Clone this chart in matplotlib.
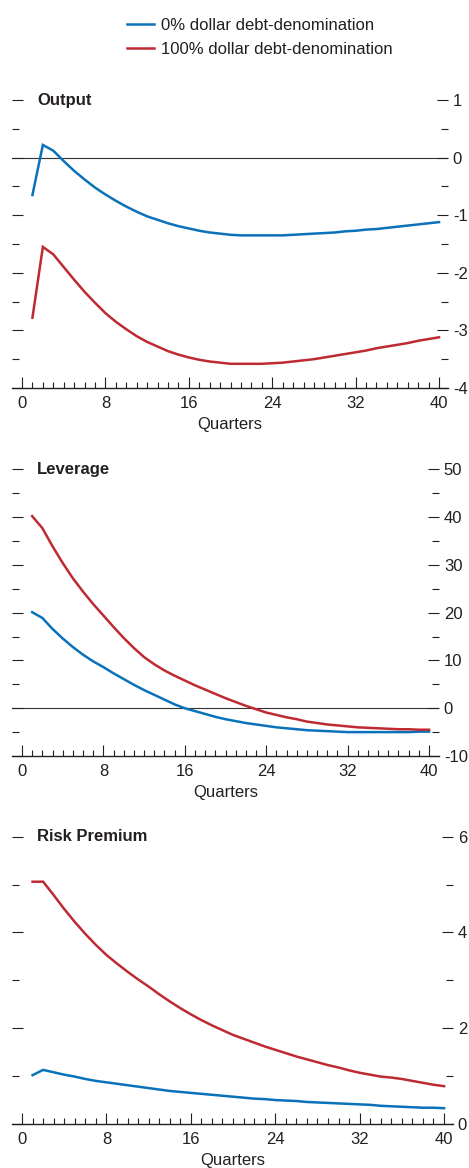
"""
Impulse responses: output, leverage and risk premium under dollar debt shares.
"""

import matplotlib

matplotlib.use("Agg")
import matplotlib.pyplot as plt
from matplotlib import font_manager
from matplotlib.ticker import MultipleLocator

# a condensed face if one is installed, else plain Liberation Sans a bit smaller
installed = {f.name for f in font_manager.fontManager.ttflist}
if "Liberation Sans Narrow" in installed:
    FAMILY, FS = ["Liberation Sans Narrow", "DejaVu Sans"], 13
else:
    FAMILY, FS = ["Liberation Sans", "DejaVu Sans"], 12

plt.rcParams["font.family"] = FAMILY
plt.rcParams["axes.unicode_minus"] = False

quarters = list(range(1, 41))

output_0 = [
    -0.65, 0.22, 0.12, -0.06, -0.23, -0.38, -0.52, -0.64, -0.75, -0.85,
    -0.94, -1.02, -1.08, -1.14, -1.19, -1.23, -1.27, -1.30, -1.32, -1.34,
    -1.35, -1.35, -1.35, -1.35, -1.35, -1.34, -1.33, -1.32, -1.31, -1.30,
    -1.28, -1.27, -1.25, -1.24, -1.22, -1.20, -1.18, -1.16, -1.14, -1.12,
]
output_100 = [
    -2.78, -1.55, -1.68, -1.90, -2.12, -2.33, -2.52, -2.70, -2.85, -2.98,
    -3.10, -3.20, -3.28, -3.36, -3.42, -3.47, -3.51, -3.54, -3.56, -3.58,
    -3.58, -3.58, -3.58, -3.57, -3.56, -3.54, -3.52, -3.50, -3.47, -3.44,
    -3.41, -3.38, -3.35, -3.31, -3.28, -3.25, -3.22, -3.18, -3.15, -3.12,
]
leverage_0 = [
    20.1, 18.9, 16.6, 14.6, 12.8, 11.2, 9.8, 8.6, 7.3, 6.1,
    4.9, 3.8, 2.8, 1.8, 0.8, 0.0, -0.6, -1.2, -1.8, -2.3,
    -2.7, -3.1, -3.4, -3.7, -4.0, -4.2, -4.4, -4.6, -4.7, -4.8,
    -4.9, -5.0, -5.0, -5.0, -5.0, -5.0, -5.0, -5.0, -4.9, -4.9,
]
leverage_100 = [
    40.2, 37.7, 33.9, 30.4, 27.2, 24.4, 21.8, 19.4, 17.0, 14.7,
    12.6, 10.7, 9.2, 7.9, 6.8, 5.8, 4.8, 3.9, 3.0, 2.1,
    1.3, 0.5, -0.2, -0.9, -1.4, -1.9, -2.3, -2.8, -3.1, -3.4,
    -3.6, -3.8, -4.0, -4.1, -4.2, -4.3, -4.4, -4.4, -4.5, -4.5,
]
risk_0 = [
    1.02, 1.13, 1.08, 1.03, 0.99, 0.94, 0.90, 0.87, 0.84, 0.81,
    0.78, 0.75, 0.72, 0.69, 0.67, 0.65, 0.63, 0.61, 0.59, 0.57,
    0.55, 0.53, 0.52, 0.50, 0.49, 0.48, 0.46, 0.45, 0.44, 0.43,
    0.42, 0.41, 0.40, 0.38, 0.37, 0.36, 0.35, 0.34, 0.34, 0.33,
]
risk_100 = [
    5.06, 5.06, 4.78, 4.49, 4.22, 3.97, 3.74, 3.53, 3.35, 3.18,
    3.02, 2.87, 2.71, 2.56, 2.42, 2.29, 2.17, 2.06, 1.96, 1.86,
    1.78, 1.70, 1.62, 1.55, 1.48, 1.41, 1.35, 1.29, 1.23, 1.18,
    1.12, 1.07, 1.03, 0.99, 0.97, 0.94, 0.90, 0.86, 0.82, 0.79,
]

series_labels = ["0% dollar debt-denomination", "100% dollar debt-denomination"]

BLUE = "#0A72BA"
RED = "#BE2A32"
TEXT = "#231F20"
W, H = 469, 1168


def rect(left, right, top, bottom):
    return [left / W, 1 - bottom / H, (right - left) / W, (bottom - top) / H]


def panel(fig, box, xlim, ylim, major, minor, title, blue, red, zero_line):
    ax = fig.add_axes(rect(*box))
    l_blue, = ax.plot(quarters, blue, color=BLUE, lw=1.8, solid_joinstyle="miter")
    l_red, = ax.plot(quarters, red, color=RED, lw=1.8, solid_joinstyle="miter")
    if zero_line:
        ax.axhline(0, color="#333333", lw=0.8, zorder=1)
    ax.set_xlim(*xlim)
    ax.set_ylim(*ylim)
    for side in ["top", "left", "right"]:
        ax.spines[side].set_visible(False)
    ax.spines["bottom"].set_linewidth(1.0)
    ax.spines["bottom"].set_color(TEXT)

    ax.xaxis.set_major_locator(MultipleLocator(8))
    ax.xaxis.set_minor_locator(MultipleLocator(1))
    ax.tick_params(axis="x", which="both", direction="in", colors=TEXT, labelsize=FS, pad=5.5)
    ax.tick_params(axis="x", which="major", length=8, width=0.8)
    ax.tick_params(axis="x", which="minor", length=4, width=0.8)
    ax.set_xlabel("Quarters", fontsize=FS, color=TEXT, labelpad=4.5)

    ax.yaxis.set_major_locator(MultipleLocator(major))
    ax.yaxis.set_minor_locator(MultipleLocator(minor))
    ax.tick_params(axis="y", which="both", direction="in", left=True, right=False,
                   labelleft=False, colors=TEXT)
    ax.tick_params(axis="y", which="major", length=8, width=0.8)
    ax.tick_params(axis="y", which="minor", length=5, width=0.8)

    twin = ax.twinx()
    twin.set_ylim(*ylim)
    for side in twin.spines:
        twin.spines[side].set_visible(False)
    twin.yaxis.set_major_locator(MultipleLocator(major))
    twin.yaxis.set_minor_locator(MultipleLocator(minor))
    twin.tick_params(axis="y", which="both", direction="in", colors=TEXT, labelsize=FS, pad=3.5)
    twin.tick_params(axis="y", which="major", length=8, width=0.8)
    twin.tick_params(axis="y", which="minor", length=5, width=0.8)

    width = box[1] - box[0]
    ax.text((37 - box[0]) / width, 1.0, title, transform=ax.transAxes, ha="left",
            va="center", fontsize=FS, fontweight="bold", color=TEXT)
    return l_blue, l_red


fig = plt.figure(figsize=(W / 100, H / 100), dpi=100)

handles = panel(fig, (12, 448, 100, 388), (-0.96, 40.86), (-4, 1), 1, 0.5,
                "Output", output_0, output_100, True)
panel(fig, (12, 439, 469.3, 756), (-0.98, 40.98), (-10, 50), 10, 5,
      "Leverage", leverage_0, leverage_100, True)
panel(fig, (12, 453, 836.7, 1124), (-0.95, 40.85), (0, 6), 2, 1,
      "Risk Premium", risk_0, risk_100, False)

fig.legend(handles, series_labels, loc="upper left", bbox_to_anchor=(127 / W, 1 - 18 / H),
           frameon=False, fontsize=FS, handlelength=1.6, handletextpad=0.45,
           labelspacing=0.55, borderpad=0, borderaxespad=0, labelcolor=TEXT)

fig.savefig("out.png", dpi=100)
